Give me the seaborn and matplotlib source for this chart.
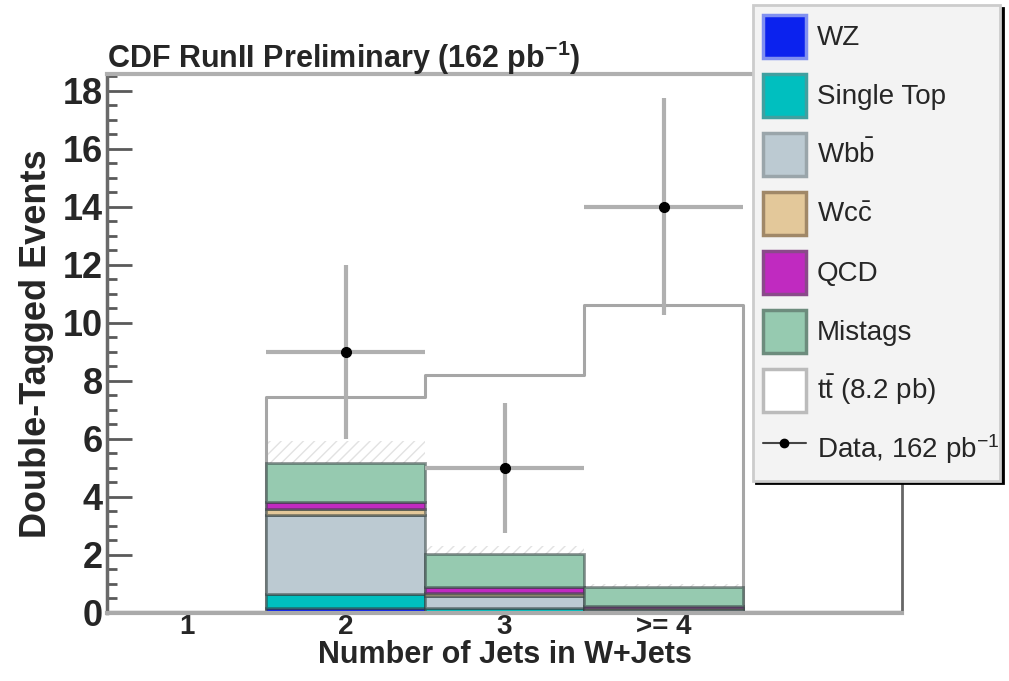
import numpy as np
import pandas as pd
import matplotlib
matplotlib.use("Agg")
import matplotlib.pyplot as plt
from matplotlib.ticker import MultipleLocator
from matplotlib.patches import Patch
from matplotlib.lines import Line2D
import seaborn as sns

# ---------------- data ----------------
jet_bins = [1, 2, 3, 4, 5]
tick_pos = [1, 2, 3, 4]
tick_labels = ["1", "2", "3", ">= 4"]

wz         = [0, 0.17, 0.05, 0.03, 0]
single_top = [0, 0.48, 0.13, 0.04, 0]
wbb        = [0, 2.73, 0.40, 0.08, 0]
wcc        = [0, 0.20, 0.10, 0.03, 0]
qcd        = [0, 0.25, 0.20, 0.05, 0]
mistags    = [0, 1.34, 1.15, 0.68, 0]
ttbar      = [0, 2.28, 6.17, 9.69, 0]
bkg_unc    = [0, 0.76, 0.28, 0.08, 0]

data_x   = [2, 3, 4]
data_n   = [9, 5, 14]
data_err = [3.0, 2.24, 3.74]

proc_names = ["WZ", "Single Top", "Wbb", "Wcc", "QCD", "Mistags"]
proc_vals = [wz, single_top, wbb, wcc, qcd, mistags]
proc_colors = ["#0b22ee", "#00bfbf", "#bccad2", "#e3c89a", "#c02ac0", "#96cab0"]
proc_edges = ["#8090f0", "#40a0a0", "#9aa5aa", "#a08868", "#8a4a8a", "#6d8c7d"]

# ---------------- style ----------------
sns.set_style("white")
plt.rcParams["font.family"] = ["Liberation Sans", "DejaVu Sans"]
plt.rcParams["mathtext.default"] = "regular"
plt.rcParams["hatch.linewidth"] = 1.0

fig = plt.figure(figsize=(10.09, 6.81), dpi=100)
ax = fig.add_axes([107 / 1009, 1 - 613 / 681, (902 - 107) / 1009, (613 - 74) / 681])

rows = []
for name, vals in zip(proc_names, proc_vals):
    for j, v in zip(jet_bins, vals):
        rows.append({"jets": j, "process": name, "events": v})
df = pd.DataFrame(rows)

edges = [0.5, 1.5, 2.5, 3.5, 4.5, 5.5]
ax.axhline(0, color="black", lw=3, zorder=0.5)

sns.histplot(data=df, x="jets", weights="events", hue="process",
             hue_order=proc_names[::-1],
             palette=dict(zip(proc_names, proc_colors)),
             multiple="stack", bins=edges, element="bars", alpha=1,
             edgecolor=(0.2, 0.25, 0.25, 0.55), linewidth=2,
             legend=False, ax=ax, zorder=2)

total = np.sum(np.array(proc_vals), axis=0)
top = total + np.array(ttbar)

ax.bar(jet_bins, bkg_unc, bottom=total, width=1.0, fill=False, hatch="///",
       edgecolor="#e2e2e2", linewidth=0, zorder=1.5)

sns.histplot(x=jet_bins, weights=list(top), bins=edges, element="step", fill=False,
             color="#a6a6a6", linewidth=2.2, ax=ax, zorder=1.6)

ax.errorbar(data_x, data_n, xerr=0.5, yerr=data_err, fmt="o", ms=7,
            mfc="black", mec="black", ecolor="#b0b0b0", elinewidth=3,
            capsize=0, zorder=5)

ax.set_xlim(0.5, 5.5)
ax.set_ylim(0, 18.58)
ax.set_yticks(range(0, 19, 2))
ax.yaxis.set_minor_locator(MultipleLocator(0.5))
ax.set_xticks(tick_pos)
ax.set_xticklabels(tick_labels)
ax.tick_params(axis="y", which="major", direction="in", length=18, width=2,
               color="#5a5a5a", labelsize=26, pad=3, left=True)
ax.tick_params(axis="y", which="minor", direction="in", length=7, width=2,
               color="#5a5a5a", left=True)
ax.tick_params(axis="x", length=0, labelsize=20, pad=1)
for lab in ax.get_yticklabels() + ax.get_xticklabels():
    lab.set_fontweight("bold")

ax.set_xlabel("Number of Jets in W+Jets", fontsize=22, fontweight="bold", labelpad=0)
ax.set_ylabel("Double-Tagged Events", fontsize=26, fontweight="bold", labelpad=6)

for side, col, lw in [("left", "#6a6a6a", 2.5), ("top", "#b0b0b0", 3),
                      ("right", "#666666", 2), ("bottom", "#aaaaaa", 3)]:
    ax.spines[side].set_color(col)
    ax.spines[side].set_linewidth(lw)
    ax.spines[side].set_visible(True)

fig.text(107 / 1009, 1 - 68 / 681, "CDF RunII Preliminary (162 pb$^{-1}$)",
         fontsize=22, fontweight="bold", va="baseline", ha="left")

handles = [Patch(facecolor=c, edgecolor=e, linewidth=2.5)
           for c, e in zip(proc_colors, proc_edges)]
handles.append(Patch(facecolor="white", edgecolor="#bbbbbb", linewidth=2.5))
handles.append(Line2D([], [], color="#444444", lw=1.5, marker="o", ms=6,
                      mfc="black", mec="black"))
labels = ["WZ", "Single Top", r"Wb$\bar{b}$", r"Wc$\bar{c}$", "QCD", "Mistags",
          r"t$\bar{t}$ (8.2 pb)", r"Data, 162 pb$^{-1}$"]
leg = fig.legend(handles, labels, loc="upper left",
                 bbox_to_anchor=(753 / 1009, 1 - 5 / 681, 247 / 1009, 0),
                 mode="expand", fontsize=20, handlelength=1.55, handleheight=2.0,
                 handletextpad=0.4, labelspacing=0.58, borderpad=0.35,
                 frameon=True, fancybox=False, facecolor="#f3f3f3",
                 edgecolor="#cccccc", framealpha=1, borderaxespad=0,
                 shadow={"color": "black", "alpha": 1}, labelcolor="#262626")
leg.get_frame().set_linewidth(2)

fig.savefig("out.png", dpi=100)
